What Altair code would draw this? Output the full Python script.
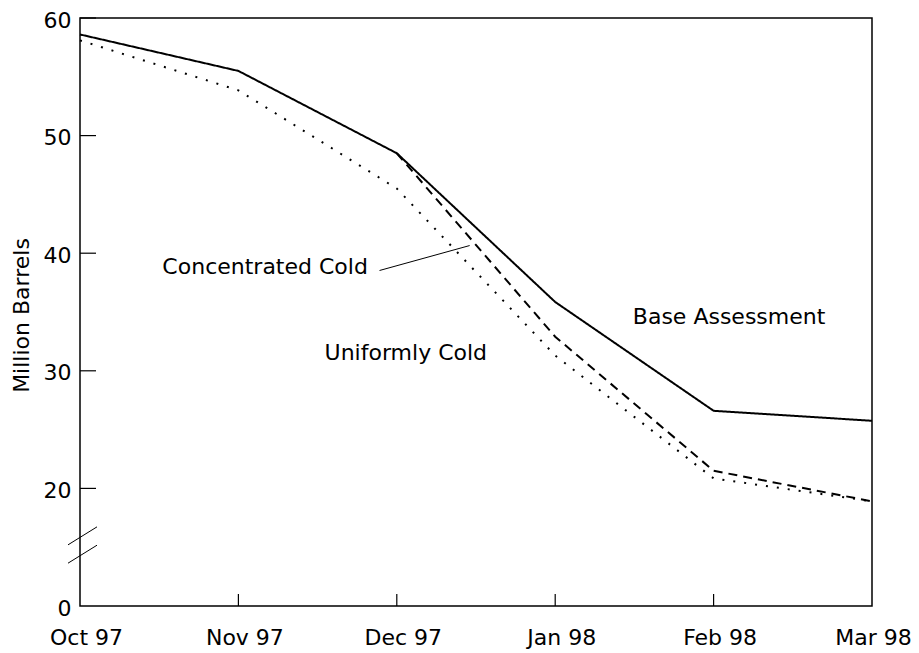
import altair as alt
import pandas as pd

# ---------------- data ----------------
months = ["Oct 97", "Nov 97", "Dec 97", "Jan 98", "Feb 98", "Mar 98"]
base_assessment = [58.6, 55.5, 48.5, 35.85, 26.6, 25.75]
concentrated_cold = [None, None, 48.5, 32.9, 21.5, 18.9]
uniformly_cold = [58.1, 53.85, 45.5, 31.3, 20.85, 18.9]

series_names = ["Base Assessment", "Concentrated Cold", "Uniformly Cold"]

y_tick_values = [10, 20, 30, 40, 50, 60]   # 10 is shown as "0" (broken axis)
y_tick_labels = ["0", "20", "30", "40", "50", "60"]

# annotation labels (in data units: month index, million barrels)
ann_text = ["Concentrated Cold", "Uniformly Cold", "Base Assessment"]
ann_x = [0.52, 1.544, 3.49]
ann_y = [38.2, 30.9, 33.96]

# leader line for "Concentrated Cold"
leader_x = [1.891]
leader_y = [38.53]
leader_x2 = [2.46]
leader_y2 = [40.65]

# axis-break marks (value at left end, value at right end)
break_left = [15.2, 13.64]
break_right = [16.73, 15.17]

# ---------------- tables ----------------
rows = []
for name, vals in zip(series_names, [base_assessment, concentrated_cold, uniformly_cold]):
    for i, v in enumerate(vals):
        if v is not None:
            rows.append({"idx": i, "month": months[i], "series": name, "value": v})
df = pd.DataFrame(rows)

ann_df = pd.DataFrame({"text": ann_text, "x": ann_x, "y": ann_y})
leader_df = pd.DataFrame({"x": leader_x, "y": leader_y, "x2": leader_x2, "y2": leader_y2})
ytick_df = pd.DataFrame({"v": y_tick_values[1:]})
xtick_df = pd.DataFrame({"i": list(range(1, len(months) - 1))})
break_df = pd.DataFrame({"a": break_left, "b": break_right})

W, H = 792, 588
FONT = "DejaVu Sans"
FS = 22

label_map = " : ".join(
    [f"datum.value == {i} ? '{m}'" for i, m in enumerate(months)]
) + " : ''"
ylabel_map = " : ".join(
    [f"datum.value == {v} ? '{l}'" for v, l in zip(y_tick_values, y_tick_labels)]
) + " : ''"

x_scale = alt.Scale(domain=[0, 5], nice=False, zero=False)
y_scale = alt.Scale(domain=[10, 60], nice=False, zero=False)

x_axis = alt.Axis(
    values=list(range(len(months))),
    labelExpr=label_map,
    title=None,
    grid=False,
    domain=False,
    ticks=False,
    labelFont=FONT,
    labelFontSize=FS,
    labelColor="black",
    labelPadding=21,
    labelOffset={"condition": {"test": "datum.value == 5", "value": 1}, "value": 6},
    labelFlush=False,
    labelOverlap=False,
)
y_axis = alt.Axis(
    values=y_tick_values,
    labelExpr=ylabel_map,
    title="Million Barrels",
    titleFont=FONT,
    titleFontSize=FS,
    titleFontWeight="normal",
    titleColor="black",
    titleAngle=270,
    titleBaseline="alphabetic",
    titleX=-52,
    titleY=297,
    grid=False,
    domain=False,
    ticks=False,
    labelFont=FONT,
    labelFontSize=FS,
    labelColor="black",
    labelPadding=9,
    labelOffset=2,
    labelFlush=False,
    labelOverlap=False,
)

lines = alt.Chart(df).mark_line(color="black", strokeWidth=2).encode(
    x=alt.X("idx:Q", scale=x_scale, axis=x_axis),
    y=alt.Y("value:Q", scale=y_scale, axis=y_axis),
    strokeDash=alt.StrokeDash(
        "series:N",
        scale=alt.Scale(domain=series_names, range=[[1, 0], [9, 6], [2, 9]]),
        legend=None,
    ),
    detail="series:N",
    order="idx:Q",
)

texts = alt.Chart(ann_df).mark_text(
    align="left", baseline="alphabetic", font=FONT, fontSize=FS, color="black"
).encode(
    x=alt.X("x:Q", scale=x_scale),
    y=alt.Y("y:Q", scale=y_scale),
    text="text:N",
)

leader = alt.Chart(leader_df).mark_rule(color="black", strokeWidth=1).encode(
    x=alt.X("x:Q", scale=x_scale),
    y=alt.Y("y:Q", scale=y_scale),
    x2="x2:Q",
    y2="y2:Q",
)

yticks = alt.Chart(ytick_df).mark_rule(color="black", strokeWidth=1.2).encode(
    y=alt.Y("v:Q", scale=y_scale),
    x=alt.value(0),
    x2=alt.value(16),
)

xticks = alt.Chart(xtick_df).mark_rule(color="black", strokeWidth=1.2).encode(
    x=alt.X("i:Q", scale=x_scale),
    y=alt.value(H),
    y2=alt.value(H - 12),
)

breaks = alt.Chart(break_df).mark_rule(color="black", strokeWidth=1).encode(
    x=alt.value(-12),
    x2=alt.value(17),
    y=alt.Y("a:Q", scale=y_scale),
    y2="b:Q",
)

chart = (
    alt.layer(lines, leader, texts, yticks, xticks, breaks)
    .properties(
        width=W,
        height=H,
        autosize=alt.AutoSizeParams(type="none"),
        padding={"left": 72, "top": 10, "right": 39, "bottom": 46},
        background="white",
    )
    .configure_view(stroke="black", strokeWidth=1.5)
)

chart.save("out.html", embed_options={"renderer": "svg", "actions": False})
